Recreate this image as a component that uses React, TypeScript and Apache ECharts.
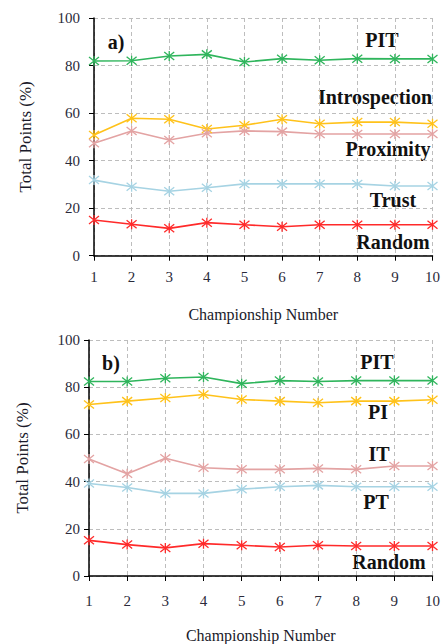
import React, { useEffect, useRef } from "react";
import * as echarts from "echarts";

const categories = ["1", "2", "3", "4", "5", "6", "7", "8", "9", "10"];

// Panel a
const aPIT = [81.9, 82.0, 84.0, 84.7, 81.5, 82.9, 82.2, 82.9, 82.8, 82.8];
const aIntrospection = [50.8, 57.8, 57.4, 53.3, 54.9, 57.4, 55.5, 56.2, 56.2, 55.5];
const aProximity = [47.3, 52.5, 48.7, 51.5, 52.5, 52.2, 51.2, 51.2, 51.2, 51.2];
const aTrust = [31.8, 29.0, 27.1, 28.6, 30.2, 30.2, 30.2, 30.2, 29.3, 29.3];
const aRandom = [15.0, 13.2, 11.5, 13.9, 13.0, 12.2, 13.0, 13.0, 13.0, 13.0];

// Panel b
const bPIT = [82.4, 82.4, 83.8, 84.3, 81.5, 82.8, 82.4, 82.8, 82.8, 82.8];
const bPI = [72.7, 74.1, 75.4, 76.9, 74.8, 74.1, 73.4, 74.1, 74.1, 74.7];
const bIT = [49.6, 43.3, 49.9, 45.9, 45.2, 45.2, 45.6, 45.2, 46.6, 46.6];
const bPT = [39.2, 37.5, 35.0, 35.0, 36.8, 37.8, 38.4, 37.8, 37.8, 37.8];
const bRandom = [15.1, 13.3, 11.9, 13.7, 13.0, 12.3, 13.0, 12.7, 12.7, 12.7];

const GREEN = "#2fb55c";
const YELLOW = "#ffc21a";
const PINK = "#e3a3a3";
const BLUE = "#a6d3e3";
const RED = "#ff2a2a";

const STAR = "path://M1,1L9,9M9,1L1,9M5,0L5,10";
const FONT = "'Liberation Serif', 'DejaVu Serif', 'Times New Roman', serif";

function App() {
  const ref = useRef<HTMLDivElement>(null);
  useEffect(() => {
    document.body.style.margin = "0";
    const chart = echarts.init(ref.current!, null, { renderer: "svg" });

    const mkSeries = (name: string, data: number[], color: string, idx: number) => ({
      name,
      type: "line",
      xAxisIndex: idx,
      yAxisIndex: idx,
      data,
      symbol: STAR,
      symbolSize: 10,
      lineStyle: { color, width: 1.6 },
      itemStyle: { color: "none", borderColor: color, borderWidth: 1.3 },
    });

    const mkX = (idx: number, labelMargin: number) => ({
      type: "category",
      gridIndex: idx,
      data: categories,
      boundaryGap: false,
      axisLine: { show: true, lineStyle: { color: "#000", width: 1.5 } },
      axisTick: { show: true, length: 5, lineStyle: { color: "#000" } },
      axisLabel: { fontFamily: FONT, fontSize: 15, color: "#2a2a3a", margin: labelMargin },
      splitLine: { show: true, lineStyle: { color: "#bdbdbd", type: [4, 3], width: 1 } },
      name: "Championship Number",
      nameLocation: "middle",
      nameGap: 51,
      nameTextStyle: { fontFamily: FONT, fontSize: 16, color: "#1a1a2a" },
    });

    const mkY = (idx: number, labelMargin: number, nameGap: number) => ({
      type: "value",
      gridIndex: idx,
      min: 0,
      max: 100,
      interval: 20,
      axisLine: { show: true, lineStyle: { color: "#000", width: 1.5 } },
      axisTick: { show: true, length: 5, lineStyle: { color: "#000" } },
      axisLabel: { fontFamily: FONT, fontSize: 15, color: "#2a2a3a", margin: labelMargin },
      splitLine: { show: true, lineStyle: { color: "#bdbdbd", type: [4, 3], width: 1 } },
      name: "Total Points (%)",
      nameLocation: "middle",
      nameGap,
      nameTextStyle: { fontFamily: FONT, fontSize: 17, color: "#1a1a2a" },
    });

    const lbl = (text: string, x: number, y: number) => ({
      type: "text",
      x,
      y,
      style: {
        text,
        fontFamily: FONT,
        fontSize: 20,
        fontWeight: "bold",
        fill: "#111",
        textAlign: "center",
        textVerticalAlign: "middle",
      },
    });

    chart.setOption({
      animation: false,
      backgroundColor: "#fff",
      grid: [
        { left: 94, right: 6, top: 18, height: 237.7 },
        { left: 89, right: 10, top: 340, height: 238.3 },
      ],
      xAxis: [mkX(0, 14), mkX(1, 17)],
      yAxis: [mkY(0, 14, 60), mkY(1, 9, 58)],
      series: [
        mkSeries("PIT", aPIT, GREEN, 0),
        mkSeries("Introspection", aIntrospection, YELLOW, 0),
        mkSeries("Proximity", aProximity, PINK, 0),
        mkSeries("Trust", aTrust, BLUE, 0),
        mkSeries("Random", aRandom, RED, 0),
        mkSeries("PIT", bPIT, GREEN, 1),
        mkSeries("PI", bPI, YELLOW, 1),
        mkSeries("IT", bIT, PINK, 1),
        mkSeries("PT", bPT, BLUE, 1),
        mkSeries("Random", bRandom, RED, 1),
      ],
      graphic: [
        lbl("a)", 116, 42),
        lbl("PIT", 382, 40),
        lbl("Introspection", 375, 97),
        lbl("Proximity", 388, 149),
        lbl("Trust", 393, 200),
        lbl("Random", 393, 242),
        lbl("b)", 111, 363),
        lbl("PIT", 377, 362),
        lbl("PI", 378, 412),
        lbl("IT", 379, 454),
        lbl("PT", 376, 502),
        lbl("Random", 389, 562),
      ],
    });
    return () => chart.dispose();
  }, []);
  return <div ref={ref} style={{ width: 443, height: 644 }} />;
}

export default App;
